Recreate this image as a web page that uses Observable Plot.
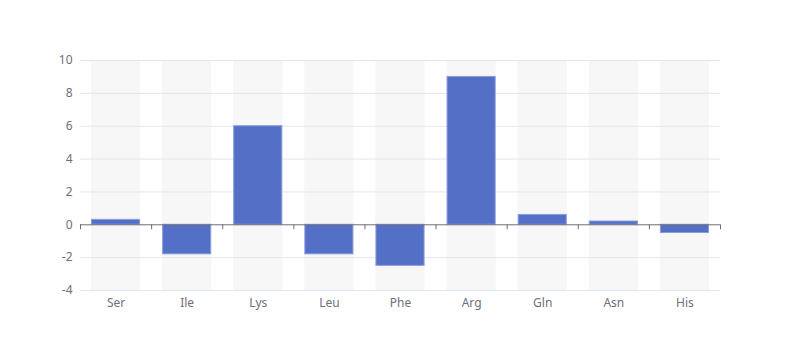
<!DOCTYPE html>
<html>
<head>
<meta charset="utf-8">
<script src="https://cdn.jsdelivr.net/npm/d3@7"></script>
<script src="https://cdn.jsdelivr.net/npm/@observablehq/plot@0.6"></script>
<style>
  html, body { margin: 0; padding: 0; background: #fff; }
  #chart { width: 800px; height: 360px; }
</style>
</head>
<body>
<div id="chart"></div>
<script>
const categories = ["Ser", "Ile", "Lys", "Leu", "Phe", "Arg", "Gln", "Asn", "His"];
const values = [0.3, -1.8, 6, -1.8, -2.5, 9, 0.6, 0.2, -0.5];
const yTicks = [-4, -2, 0, 2, 4, 6, 8, 10];
const yMin = -4, yMax = 10;

const data = categories.map((c, i) => ({ i, name: c, value: values[i] }));
const boundaries = d3.range(categories.length + 1);
const centers = categories.map((c, i) => i + 0.5);

const axisColor = "#6e7079";
const gridColor = "#e0e6f1";

const chart = Plot.plot({
  width: 800,
  height: 360,
  marginLeft: 80,
  marginRight: 80,
  marginTop: 60,
  marginBottom: 70,
  style: { fontFamily: "'Noto Sans', sans-serif", fontSize: "12px", color: axisColor, background: "#fff" },
  x: { type: "linear", domain: [0, categories.length], axis: null },
  y: { domain: [yMin, yMax], axis: null },
  marks: [
    Plot.rectY(data, { x1: "i", x2: d => d.i + 1, y1: yMin, y2: yMax, fill: "#f7f7f7", insetLeft: 11, insetRight: 11 }),
    Plot.ruleY(yTicks.filter(t => t !== 0), { stroke: gridColor, strokeWidth: 1 }),
    Plot.rectY(data, { x1: "i", x2: d => d.i + 1, y: "value", fill: "#5470c6", stroke: "#8a9ddb", strokeWidth: 1, insetLeft: 11.5, insetRight: 11.5 }),
    Plot.ruleY([0], { stroke: axisColor, strokeWidth: 1 }),
    Plot.ruleX(boundaries, { y1: 0, y2: 0, insetBottom: -5, stroke: axisColor, strokeWidth: 1 }),
    Plot.axisY(yTicks, { tickSize: 0, tickPadding: 8, tickFormat: d => String(d), label: null, fill: axisColor, fontSize: 12 }),
    Plot.axisX(centers, { tickSize: 0, tickPadding: 8, tickFormat: v => categories[Math.floor(v)], label: null, fill: axisColor, fontSize: 12 })
  ]
});

document.getElementById("chart").appendChild(chart);
</script>
</body>
</html>
